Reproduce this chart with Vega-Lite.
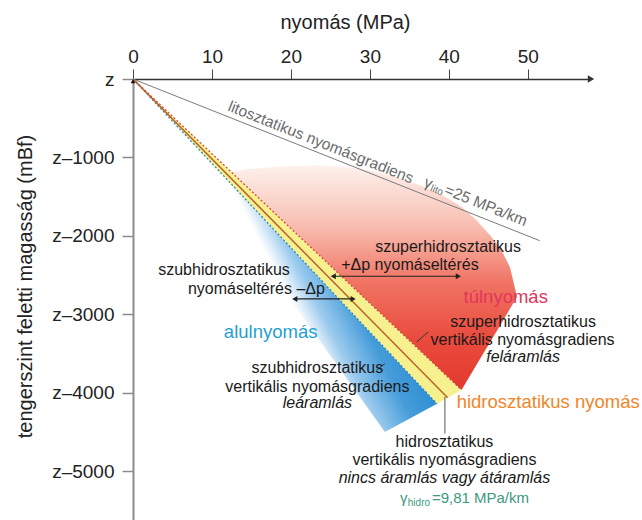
{
  "$schema": "https://vega.github.io/schema/vega-lite/v6.json",
  "width": 458,
  "height": 441,
  "autosize": {"type": "none"},
  "padding": {"left": 133, "top": 79, "right": 51, "bottom": 0},
  "background": "white",
  "config": {"view": {"stroke": null}, "font": "Liberation Sans", "text": {"font": "Liberation Sans"}},
  "datasets": {
    "blue": [
      {"x": 0, "y": 0, "y2": 0},
      {"x": 31.9, "y": -3430, "y2": -4500},
      {"x": 38.5, "y": -4140, "y2": -4140}
    ],
    "red": [
      {"x": 12.45, "y": -1186, "y2": -1186},
      {"x": 14.5, "y": -1150, "y2": -1381},
      {"x": 17.33, "y": -1125, "y2": -1650},
      {"x": 20.5, "y": -1108, "y2": -1952},
      {"x": 23.66, "y": -1099, "y2": -2253},
      {"x": 27.0, "y": -1120, "y2": -2571},
      {"x": 30.0, "y": -1163, "y2": -2857},
      {"x": 33.2, "y": -1245, "y2": -3162},
      {"x": 36.34, "y": -1354, "y2": -3461},
      {"x": 39.0, "y": -1470, "y2": -3714},
      {"x": 41.6, "y": -1628, "y2": -3962},
      {"x": 43.5, "y": -1800, "y2": -3642},
      {"x": 45.21, "y": -1991, "y2": -3355},
      {"x": 46.6, "y": -2170, "y2": -3121},
      {"x": 47.74, "y": -2400, "y2": -2929},
      {"x": 48.63, "y": -2779, "y2": -2779}
    ],
    "band": [
      {"x": 0, "y": 0, "y2": 0},
      {"x": 38.5, "y": -3667, "y2": -4140},
      {"x": 41.6, "y": -3962, "y2": -3962}
    ],
    "edgeLow": [{"x": 0, "y": 0, "x2": 38.5, "y2": -4140}],
    "edgeHigh": [{"x": 0, "y": 0, "x2": 41.6, "y2": -3962}],
    "hydro": [{"x": 0, "y": 0, "x2": 39.85, "y2": -4062}],
    "litho": [{"x": 0, "y": 0, "x2": 51.5, "y2": -2060}],
    "arrows": [
      {"x": 25.36, "y": -2514, "x2": 41.2},
      {"x": 20.49, "y": -2803, "x2": 27.88}
    ],
    "headsLeft": [{"x": 25.36, "y": -2514}, {"x": 20.49, "y": -2803}],
    "headsRight": [{"x": 41.2, "y": -2514}, {"x": 27.88, "y": -2803}],
    "leaders": [
      {"x": 35.92, "y": -3351, "x2": 37.39, "y2": -3223},
      {"x": 30.85, "y": -3711, "x2": 31.9, "y2": -3626}
    ],
    "leaderV": [{"x": 39.5, "y": -4051, "x2": 39.5, "y2": -4518}],
    "axisTip": [{"x": 58, "y": 0}],
    "origin": [{"x": 0, "y": -29}],
    "notes": [
      {"x": 39.9, "y": -2140, "t": "szuperhidrosztatikus"},
      {"x": 35.07, "y": -2374, "t": "+Δp nyomáseltérés"},
      {"x": 49.4, "y": -3096, "t": "szuperhidrosztatikus"},
      {"x": 49.33, "y": -3329, "t": "vertikális nyomásgradiens"},
      {"x": 23.35, "y": -3689, "t": "szubhidrosztatikus"},
      {"x": 23.35, "y": -3924, "t": "vertikális nyomásgradiens"},
      {"x": 39.44, "y": -4629, "t": "hidrosztatikus"},
      {"x": 39.44, "y": -4858, "t": "vertikális nyomásgradiens"}
    ],
    "notesRight": [
      {"x": 19.86, "y": -2437, "t": "szubhidrosztatikus"},
      {"x": 24.3, "y": -2670, "t": "nyomáseltérés –Δp"}
    ],
    "notesItalic": [
      {"x": 49.4, "y": -3539, "t": "feláramlás"},
      {"x": 23.35, "y": -4135, "t": "leáramlás"},
      {"x": 39.44, "y": -5091, "t": "nincs áramlás vagy átáramlás"}
    ],
    "over": [{"x": 47.2, "y": -2777, "t": "túlnyomás"}],
    "under": [{"x": 17.43, "y": -3223, "t": "alulnyomás"}],
    "hydroName": [{"x": 40.99, "y": -4115, "t": "hidrosztatikus nyomás"}],
    "lithoName": [{"x": 23.79, "y": -806, "t": "litosztatikus nyomásgradiens"}],
    "lithoGrad": [
      {"x": 36.97, "y": -1303, "t": "γ"},
      {"x": 39.56, "y": -1406, "t": "=25 MPa/km"}
    ],
    "lithoSub": [{"x": 37.73, "y": -1389, "t": "lito"}],
    "hydroGrad": [
      {"x": 33.8, "y": -5342, "t": "γ"},
      {"x": 37.85, "y": -5342, "t": "=9,81 MPa/km"}
    ],
    "hydroSub": [{"x": 34.8, "y": -5406, "t": "hidro"}]
  },
  "encoding": {
    "x": {
      "field": "x",
      "type": "quantitative",
      "scale": {"domain": [0, 58], "nice": false, "zero": false},
      "axis": {
        "orient": "top",
        "values": [0, 10, 20, 30, 40, 50],
        "title": "nyomás (MPa)",
        "titleFontSize": 20,
        "titleFontWeight": "normal",
        "titleColor": "#222222",
        "titleX": 212,
        "titleY": -51,
        "titleAlign": "center",
        "titleBaseline": "alphabetic",
        "labelFontSize": 19,
        "labelColor": "#222222",
        "labelPadding": 3,
        "labelFlush": false,
        "labelOverlap": false,
        "tickSize": 10,
        "tickColor": "#444444",
        "tickWidth": 1,
        "domainColor": "#333333",
        "domainWidth": 1.5,
        "grid": false
      }
    },
    "y": {
      "field": "y",
      "type": "quantitative",
      "scale": {"domain": [-5620, 0], "nice": false, "zero": false},
      "axis": {
        "orient": "left",
        "values": [0, -1000, -2000, -3000, -4000, -5000],
        "labelExpr": "datum.value == 0 ? 'z' : 'z–' + (-datum.value)",
        "title": "tengerszint feletti magasság (mBf)",
        "titleFontSize": 20,
        "titleFontWeight": "normal",
        "titleColor": "#222222",
        "titleX": -102,
        "titleY": 207,
        "titleAngle": 270,
        "titleAlign": "center",
        "titleBaseline": "alphabetic",
        "labelFontSize": 19,
        "labelColor": "#222222",
        "labelPadding": 8,
        "labelFlush": false,
        "labelOverlap": false,
        "tickSize": 11,
        "tickColor": "#8c8c8c",
        "tickWidth": 1.5,
        "domainColor": "#8c8c8c",
        "domainWidth": 2,
        "grid": false
      }
    }
  },
  "layer": [
    {
      "data": {"name": "blue"},
      "mark": {
        "type": "area",
        "orient": "vertical",
        "interpolate": "linear",
        "fill": {
          "gradient": "linear",
          "x1": 0.44, "y1": 0.5, "x2": 0.668, "y2": 0.363,
          "stops": [
            {"offset": 0, "color": "#ffffff"},
            {"offset": 0.12, "color": "#d4e8f7"},
            {"offset": 0.26, "color": "#9ccbee"},
            {"offset": 0.65, "color": "#459cd9"},
            {"offset": 1, "color": "#2f8fd3"}
          ]
        }
      },
      "encoding": {"y": {"field": "y", "type": "quantitative", "stack": null}, "y2": {"field": "y2"}}
    },
    {
      "data": {"name": "red"},
      "mark": {
        "type": "area",
        "orient": "vertical",
        "interpolate": "linear",
        "fill": {
          "gradient": "linear",
          "x1": 0.5, "y1": 0, "x2": 0.5, "y2": 1,
          "stops": [
            {"offset": 0, "color": "#fdf1ed"},
            {"offset": 0.28, "color": "#f8bcae"},
            {"offset": 0.52, "color": "#f07464"},
            {"offset": 0.78, "color": "#e94a3c"},
            {"offset": 1, "color": "#e3392e"}
          ]
        }
      },
      "encoding": {"y": {"field": "y", "type": "quantitative", "stack": null}, "y2": {"field": "y2"}}
    },
    {
      "data": {"name": "band"},
      "mark": {"type": "area", "orient": "vertical", "interpolate": "linear", "fill": "#f7f08e"},
      "encoding": {"y": {"field": "y", "type": "quantitative", "stack": null}, "y2": {"field": "y2"}}
    },
    {
      "data": {"name": "edgeLow"},
      "mark": {"type": "rule", "color": "#2a86bf", "strokeWidth": 1.3, "strokeDash": [2, 2]},
      "encoding": {"x2": {"field": "x2"}, "y2": {"field": "y2"}}
    },
    {
      "data": {"name": "edgeHigh"},
      "mark": {"type": "rule", "color": "#d4443a", "strokeWidth": 1.3, "strokeDash": [2, 2]},
      "encoding": {"x2": {"field": "x2"}, "y2": {"field": "y2"}}
    },
    {
      "data": {"name": "hydro"},
      "mark": {"type": "rule", "color": "#b8642e", "strokeWidth": 1.5},
      "encoding": {"x2": {"field": "x2"}, "y2": {"field": "y2"}}
    },
    {
      "data": {"name": "litho"},
      "mark": {"type": "rule", "color": "#7a7a7a", "strokeWidth": 1},
      "encoding": {"x2": {"field": "x2"}, "y2": {"field": "y2"}}
    },
    {
      "data": {"name": "arrows"},
      "mark": {"type": "rule", "color": "#222222", "strokeWidth": 1.2},
      "encoding": {"x2": {"field": "x2"}}
    },
    {
      "data": {"name": "headsLeft"},
      "mark": {"type": "point", "shape": "triangle-left", "filled": true, "size": 35, "color": "#222222", "opacity": 1}
    },
    {
      "data": {"name": "headsRight"},
      "mark": {"type": "point", "shape": "triangle-right", "filled": true, "size": 35, "color": "#222222", "opacity": 1}
    },
    {
      "data": {"name": "leaders"},
      "mark": {"type": "rule", "color": "#333333", "strokeWidth": 1},
      "encoding": {"x2": {"field": "x2"}, "y2": {"field": "y2"}}
    },
    {
      "data": {"name": "leaderV"},
      "mark": {"type": "rule", "color": "#555555", "strokeWidth": 1},
      "encoding": {"x2": {"field": "x2"}, "y2": {"field": "y2"}}
    },
    {
      "data": {"name": "axisTip"},
      "mark": {"type": "point", "shape": "triangle-right", "filled": true, "size": 55, "color": "#333333", "opacity": 1}
    },
    {
      "data": {"name": "origin"},
      "mark": {"type": "point", "shape": "triangle-up", "filled": true, "size": 22, "color": "#111111", "opacity": 1}
    },
    {
      "data": {"name": "notes"},
      "mark": {"type": "text", "align": "center", "baseline": "middle", "fontSize": 16, "color": "#1a1a1a"},
      "encoding": {"text": {"field": "t"}}
    },
    {
      "data": {"name": "notesRight"},
      "mark": {"type": "text", "align": "right", "baseline": "middle", "fontSize": 16, "color": "#1a1a1a"},
      "encoding": {"text": {"field": "t"}}
    },
    {
      "data": {"name": "notesItalic"},
      "mark": {"type": "text", "align": "center", "baseline": "middle", "fontSize": 16, "fontStyle": "italic", "color": "#1a1a1a"},
      "encoding": {"text": {"field": "t"}}
    },
    {
      "data": {"name": "over"},
      "mark": {"type": "text", "align": "center", "baseline": "middle", "fontSize": 18.5, "color": "#e2365b"},
      "encoding": {"text": {"field": "t"}}
    },
    {
      "data": {"name": "under"},
      "mark": {"type": "text", "align": "center", "baseline": "middle", "fontSize": 18.5, "color": "#1f9fd0"},
      "encoding": {"text": {"field": "t"}}
    },
    {
      "data": {"name": "hydroName"},
      "mark": {"type": "text", "align": "left", "baseline": "middle", "fontSize": 18.5, "color": "#f0862a"},
      "encoding": {"text": {"field": "t"}}
    },
    {
      "data": {"name": "lithoName"},
      "mark": {"type": "text", "align": "center", "baseline": "middle", "fontSize": 15.5, "angle": 21.7, "color": "#6b6b6b"},
      "encoding": {"text": {"field": "t"}}
    },
    {
      "data": {"name": "lithoGrad"},
      "mark": {"type": "text", "align": "left", "baseline": "middle", "fontSize": 15.5, "angle": 21.7, "color": "#6b6b6b"},
      "encoding": {"text": {"field": "t"}}
    },
    {
      "data": {"name": "lithoSub"},
      "mark": {"type": "text", "align": "left", "baseline": "middle", "fontSize": 10, "angle": 21.7, "color": "#6b6b6b"},
      "encoding": {"text": {"field": "t"}}
    },
    {
      "data": {"name": "hydroGrad"},
      "mark": {"type": "text", "align": "left", "baseline": "middle", "fontSize": 15, "color": "#3d9a80"},
      "encoding": {"text": {"field": "t"}}
    },
    {
      "data": {"name": "hydroSub"},
      "mark": {"type": "text", "align": "left", "baseline": "middle", "fontSize": 10, "color": "#3d9a80"},
      "encoding": {"text": {"field": "t"}}
    }
  ]
}
